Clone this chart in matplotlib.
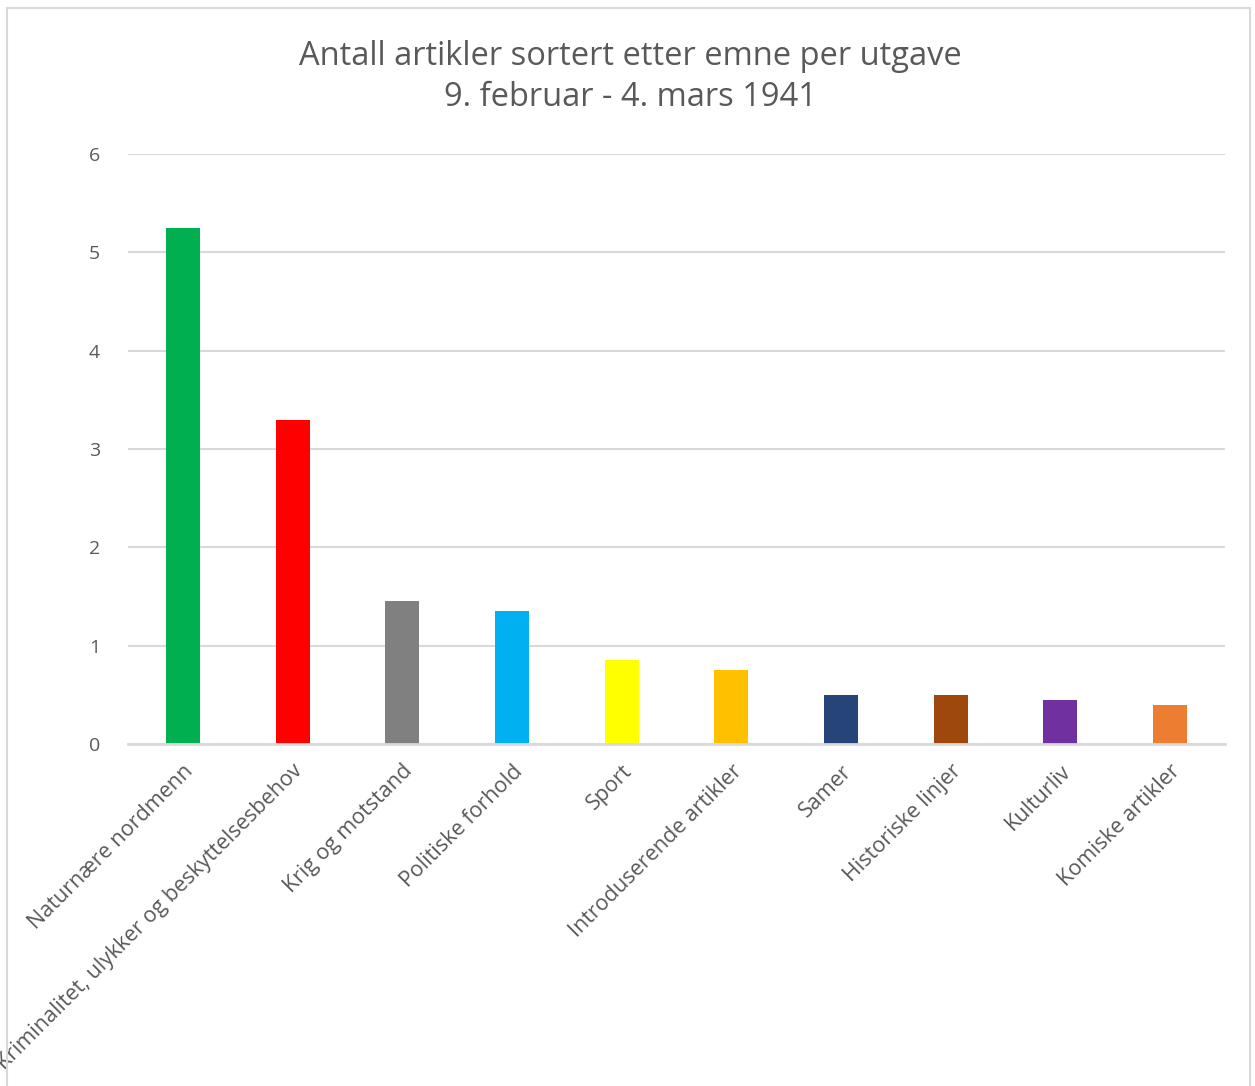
import matplotlib
matplotlib.use("Agg")
import matplotlib.pyplot as plt
from matplotlib.patches import Rectangle

categories = ["Naturnære nordmenn", "Kriminalitet, ulykker og beskyttelsesbehov",
              "Krig og motstand", "Politiske forhold", "Sport", "Introduserende artikler",
              "Samer", "Historiske linjer", "Kulturliv", "Komiske artikler"]
values = [5.25, 3.3, 1.45, 1.35, 0.85, 0.75, 0.5, 0.5, 0.45, 0.4]
colors = ["#00B050", "#FF0000", "#808080", "#00B0F0", "#FFFF00", "#FFC000",
          "#264478", "#9E480E", "#7030A0", "#ED7D31"]
yticks = [0, 1, 2, 3, 4, 5, 6]
title = "Antall artikler sortert etter emne per utgave\n9. februar - 4. mars 1941"

plt.rcParams['font.family'] = ['Open Sans', 'DejaVu Sans']
W, H = 1255, 1086
fig = plt.figure(figsize=(W / 100, H / 100), dpi=100)
fig.patch.set_facecolor("white")

# chart border
fig.add_artist(Rectangle((7 / W, -0.05), (1250 - 7) / W, 1.05 - 8 / H,
                         transform=fig.transFigure, fill=False,
                         edgecolor="#D9D9D9", linewidth=1.5))

ax = fig.add_axes([128 / W, 1 - 744 / H, (1225 - 128) / W, (744 - 154) / H])
x = range(len(categories))
ax.bar(x, values, width=0.31, color=colors, zorder=3)
ax.set_xlim(-0.5, len(categories) - 0.5)
ax.set_ylim(0, 6)
ax.set_yticks(yticks)
ax.set_yticklabels([str(t) for t in yticks], fontsize=14, color="#595959")
ax.yaxis.grid(True, color="#D9D9D9", linewidth=1.5, zorder=0)
ax.tick_params(axis="y", length=0, pad=20)
ax.tick_params(axis="x", length=0, pad=12)
ax.set_xticks(list(x))
ax.set_xticklabels(categories, rotation=45, ha="right", rotation_mode="anchor",
                   fontsize=15.5, color="#595959")
for s in ["top", "right", "left"]:
    ax.spines[s].set_visible(False)
ax.spines["bottom"].set_color("#D9D9D9")
ax.spines["bottom"].set_linewidth(2)
ax.spines["bottom"].set_zorder(4)

fig.text(630 / W, 1 - 77 / H, title, ha="center", va="center", fontsize=23.5,
         color="#595959", linespacing=1.35)

fig.savefig("out.png", dpi=100, facecolor="white")
